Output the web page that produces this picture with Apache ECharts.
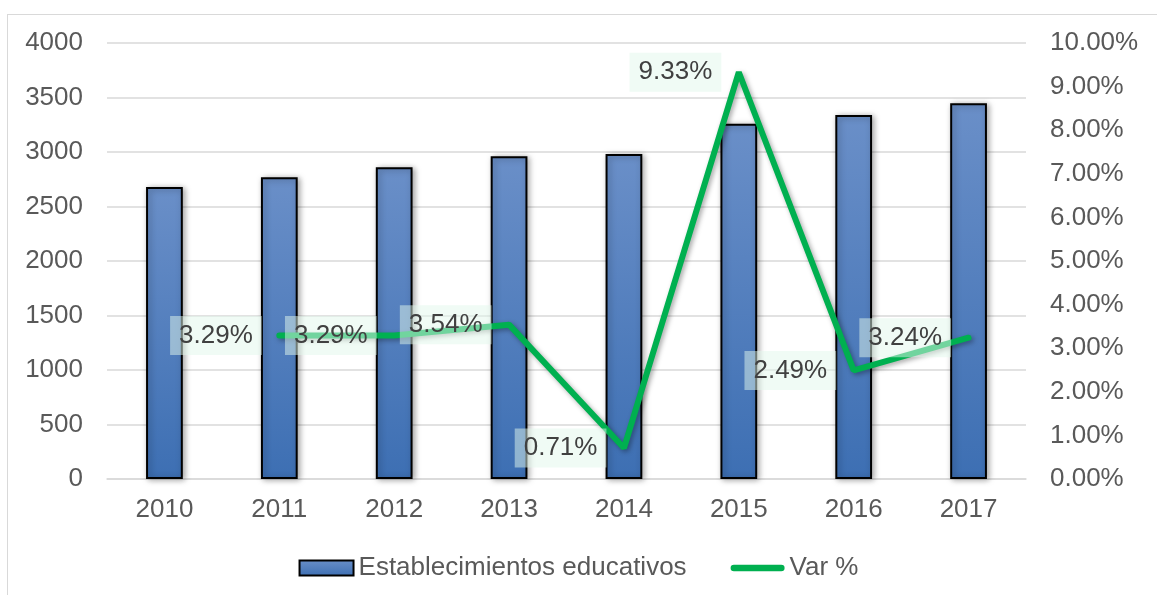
<!DOCTYPE html>
<html>
<head>
<meta charset="utf-8">
<script src="https://cdn.jsdelivr.net/npm/echarts@6/dist/echarts.min.js"></script>
<style>
  html, body { margin: 0; padding: 0; background: #fff; }
  #frame {
    position: absolute; left: 7px; top: 14px; width: 1150px; height: 600px;
    border-left: 1px solid #d9d9d9; border-top: 1px solid #d9d9d9;
  }
  #chart { position: absolute; left: 0; top: 0; width: 1157px; height: 595px; }
</style>
</head>
<body>
<div id="frame"></div>
<div id="chart"></div>
<script>
// datos
const years = ['2010', '2011', '2012', '2013', '2014', '2015', '2016', '2017'];
const establecimientos = [2680, 2768, 2859, 2960, 2981, 3259, 3340, 3448];
const varPct = [null, 3.29, 3.29, 3.54, 0.71, 9.33, 2.49, 3.24];

const chart = echarts.init(document.getElementById('chart'));

const fontFamily = '"Liberation Sans", Arial, sans-serif';

chart.setOption({
  animation: false,
  textStyle: { fontFamily: fontFamily },
  grid: { left: 107, right: 131, top: 43, bottom: 116 },
  legend: {
    top: 550,
    left: 'center',
    itemWidth: 54,
    itemHeight: 15,
    itemGap: 44,
    textStyle: { fontSize: 26, color: '#595959', fontFamily: fontFamily },
    data: [
      { name: 'Establecimientos educativos', icon: 'rect' },
      { name: 'Var %', icon: 'path://M3.5,0 L53.5,0 A3.5,3.5 0 0 1 53.5,7 L3.5,7 A3.5,3.5 0 0 1 3.5,0 Z' }
    ]
  },
  xAxis: {
    type: 'category',
    data: years,
    axisTick: { show: false },
    axisLine: { lineStyle: { color: '#d9d9d9', width: 1.5 } },
    axisLabel: { fontSize: 26, color: '#595959', margin: 18 }
  },
  yAxis: [
    {
      type: 'value', min: 0, max: 4000, interval: 500,
      axisLine: { show: false }, axisTick: { show: false },
      splitLine: { lineStyle: { color: '#d9d9d9', width: 1.5 } },
      axisLabel: { fontSize: 26, color: '#595959', margin: 24, formatter: v => String(v) }
    },
    {
      type: 'value', min: 0, max: 10, interval: 1,
      axisLine: { show: false }, axisTick: { show: false },
      splitLine: { show: false },
      axisLabel: {
        fontSize: 26, color: '#595959', margin: 24,
        formatter: v => v.toFixed(2) + '%'
      }
    }
  ],
  series: [
    {
      name: 'Establecimientos educativos',
      type: 'bar',
      data: establecimientos,
      barWidth: '32%',
      itemStyle: {
        color: new echarts.graphic.LinearGradient(0, 0, 0, 1, [
          { offset: 0, color: '#6A8FC8' },
          { offset: 1, color: '#3D6FB3' }
        ]),
        borderColor: '#000',
        borderWidth: 2,
        shadowBlur: 6,
        shadowOffsetX: 2,
        shadowOffsetY: 1,
        shadowColor: 'rgba(0,0,0,0.35)'
      }
    },
    {
      name: 'Var %',
      type: 'line',
      yAxisIndex: 1,
      data: varPct,
      symbol: 'circle',
      symbolSize: 1,
      itemStyle: { color: '#00B050' },
      lineStyle: {
        color: '#00B050', width: 6, cap: 'round',
        shadowBlur: 5, shadowOffsetX: 2, shadowOffsetY: 2,
        shadowColor: 'rgba(0,0,0,0.35)'
      },
      label: {
        show: true,
        position: 'left',
        distance: 17,
        fontSize: 26,
        color: '#404040',
        backgroundColor: 'rgba(225,248,235,0.5)',
        padding: [7, 9, 6, 9],
        formatter: p => p.value.toFixed(2) + '%'
      },
      z: 3
    }
  ]
});
</script>
</body>
</html>
